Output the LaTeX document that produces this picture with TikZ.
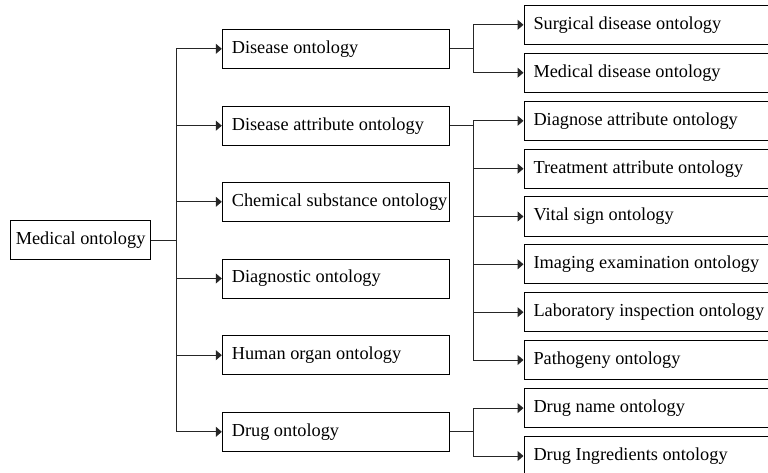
\documentclass[tikz,border=0pt]{standalone}
\usepackage{fontspec}
\setmainfont{Liberation Serif}
\usetikzlibrary{arrows.meta}

% fixed-width, left-aligned label inside a box
\newcommand{\lbl}[2]{\makebox[#1][l]{#2}}

\begin{document}
\begin{tikzpicture}[x=1pt,y=-1pt,
  every node/.style={font=\fontsize{18.3}{20}\selectfont},
  box/.style={draw=black, line width=1pt, minimum height=39pt, inner ysep=0pt, anchor=west},
  rootbox/.style={box, inner xsep=5.5pt},
  midbox/.style={box, inner xsep=9.5pt},
  leafbox/.style={box, inner xsep=9.5pt},
  conn/.style={line width=1pt, draw=black!85,
    -{Triangle[length=6pt,width=10pt]}},
]
\useasboundingbox (0,0) rectangle (768,473);

% root
\node[rootbox] (med) at (9.8,240.3) {Medical ontology};

% first level
\node[midbox] (dis)   at (221.8,48.8)  {\lbl{208pt}{Disease ontology}};
\node[midbox] (attr)  at (221.8,125.7) {\lbl{208pt}{Disease attribute ontology}};
\node[midbox] (chem)  at (221.8,201.8) {\lbl{208pt}{Chemical substance ontology}};
\node[midbox] (diag)  at (221.8,278.5) {\lbl{208pt}{Diagnostic ontology}};
\node[midbox] (organ) at (221.8,355.2) {\lbl{208pt}{Human organ ontology}};
\node[midbox] (drug)  at (221.8,431.8) {\lbl{208pt}{Drug ontology}};

% second level
\node[leafbox] (surg)  at (523.5,24.8)  {\lbl{250pt}{Surgical disease ontology}};
\node[leafbox] (medd)  at (523.5,72.7)  {\lbl{250pt}{Medical disease ontology}};
\node[leafbox] (dattr) at (523.5,120.8) {\lbl{250pt}{Diagnose attribute ontology}};
\node[leafbox] (tattr) at (523.5,168.7) {\lbl{250pt}{Treatment attribute ontology}};
\node[leafbox] (vital) at (523.5,216.5) {\lbl{250pt}{Vital sign ontology}};
\node[leafbox] (imag)  at (523.5,264.3) {\lbl{250pt}{Imaging examination ontology}};
\node[leafbox] (lab)   at (523.5,312.2) {\lbl{250pt}{Laboratory inspection ontology}};
\node[leafbox] (path)  at (523.5,360.0) {\lbl{250pt}{Pathogeny ontology}};
\node[leafbox] (dname) at (523.5,408.1) {\lbl{250pt}{Drug name ontology}};
\node[leafbox] (ingr)  at (523.5,456.0) {\lbl{250pt}{Drug Ingredients ontology}};

% root to first level
\foreach \c in {dis,attr,chem,diag,organ,drug}
  \draw[conn] (med.east) -- ++(25,0) |- (\c.west);

% first level to second level
\foreach \c in {surg,medd}
  \draw[conn] (dis.east) -- ++(24,0) |- (\c.west);
\foreach \c in {dattr,tattr,vital,imag,lab,path}
  \draw[conn] (attr.east) -- ++(24,0) |- (\c.west);
\foreach \c in {dname,ingr}
  \draw[conn] (drug.east) -- ++(24,0) |- (\c.west);
\end{tikzpicture}
\end{document}
